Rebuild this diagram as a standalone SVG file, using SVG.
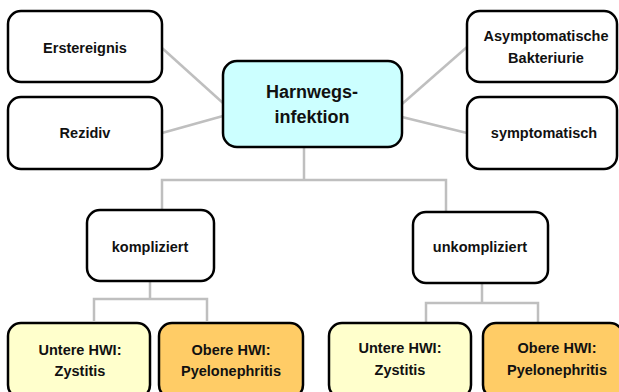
<svg xmlns="http://www.w3.org/2000/svg" width="619" height="392" viewBox="0 0 619 392">
<style>
.box{stroke:#000;stroke-width:2.5;fill:#fff}
.c{fill:#ccffff}
.y{fill:#ffffcc}
.o{fill:#ffcc66}
.t{font-family:"Liberation Sans",Arial,sans-serif;font-weight:bold;font-size:14.5px;fill:#111;text-anchor:middle}
.big{font-size:18px}
.con{stroke:#bfbfbf;stroke-width:2.5;fill:none}
</style>
<rect width="619" height="392" fill="#fff"/>
<g id="connectors">
<line class="con" x1="162" y1="48" x2="223" y2="103"/>
<line class="con" x1="162" y1="133" x2="223" y2="116"/>
<line class="con" x1="402" y1="104" x2="467" y2="47"/>
<line class="con" x1="402" y1="117" x2="467" y2="133"/>
<polyline class="con" points="304,147 304,180"/>
<polyline class="con" points="162,210 162,180 446,180 446,212"/>
<polyline class="con" points="150,281 150,299"/>
<polyline class="con" points="94,321 94,299 207,299 207,321"/>
<polyline class="con" points="482,283 482,303"/>
<polyline class="con" points="426,323 426,303 538,303 538,323"/>
</g>
<g id="erstereignis">
<rect class="box" x="8" y="11" width="154" height="71" rx="13"/>
<text class="t" x="85" y="53">Erstereignis</text>
</g>
<g id="rezidiv">
<rect class="box" x="8" y="97" width="154" height="72" rx="13"/>
<text class="t" x="85" y="138">Rezidiv</text>
</g>
<g id="harnwegsinfektion">
<rect class="box c" x="223" y="61" width="179" height="86" rx="14"/>
<text class="t big" x="312" y="98">Harnwegs-</text>
<text class="t big" x="312" y="123">infektion</text>
</g>
<g id="asymptomatische">
<rect class="box" x="467" y="11" width="150" height="71" rx="13"/>
<text class="t" x="546" y="41">Asymptomatische</text>
<text class="t" x="546" y="63">Bakteriurie</text>
</g>
<g id="symptomatisch">
<rect class="box" x="467" y="97" width="150" height="72" rx="13"/>
<text class="t" x="544" y="138">symptomatisch</text>
</g>
<g id="kompliziert">
<rect class="box" x="87" y="210" width="127" height="71" rx="13"/>
<text class="t" x="150" y="252">kompliziert</text>
</g>
<g id="unkompliziert">
<rect class="box" x="413" y="212" width="135" height="71" rx="13"/>
<text class="t" x="480" y="252">unkompliziert</text>
</g>
<g id="k-untere">
<rect class="box y" x="8" y="323" width="142" height="75" rx="13"/>
<text class="t" x="80" y="355">Untere HWI:</text>
<text class="t" x="80" y="376">Zystitis</text>
</g>
<g id="k-obere">
<rect class="box o" x="159" y="323" width="144" height="75" rx="13"/>
<text class="t" x="231" y="355">Obere HWI:</text>
<text class="t" x="231" y="376">Pyelonephritis</text>
</g>
<g id="u-untere">
<rect class="box y" x="329" y="323" width="142" height="75" rx="13"/>
<text class="t" x="400" y="353">Untere HWI:</text>
<text class="t" x="400" y="375">Zystitis</text>
</g>
<g id="u-obere">
<rect class="box o" x="483" y="323" width="140" height="75" rx="13"/>
<text class="t" x="557" y="353">Obere HWI:</text>
<text class="t" x="557" y="375">Pyelonephritis</text>
</g>
</svg>
